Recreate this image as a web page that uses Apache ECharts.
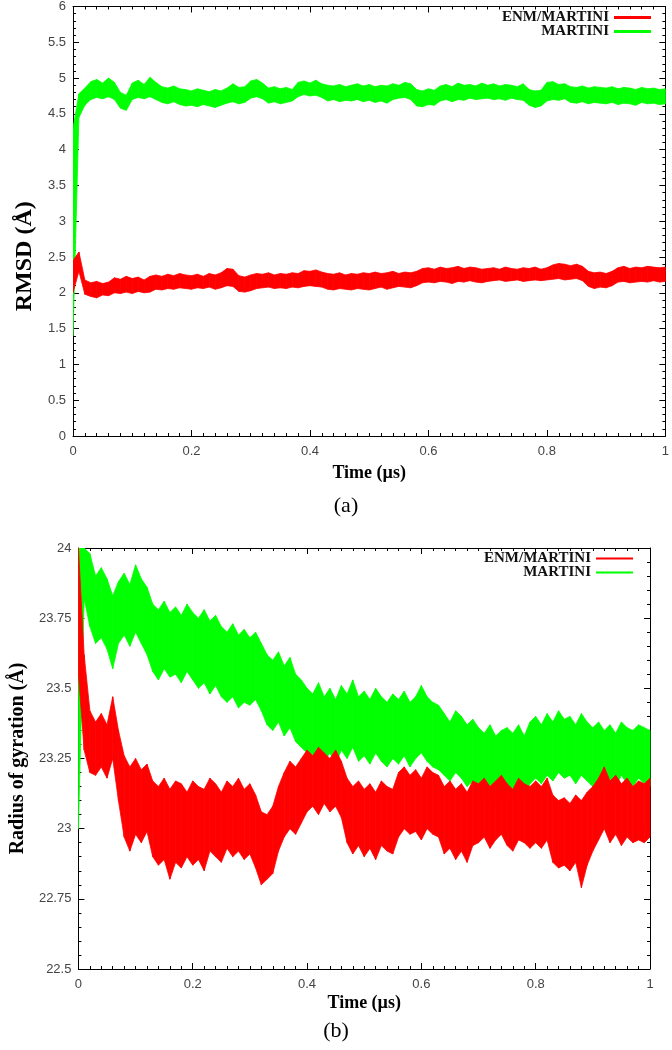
<!DOCTYPE html>
<html>
<head>
<meta charset="utf-8">
<script src="https://cdn.jsdelivr.net/npm/echarts@6/dist/echarts.min.js"></script>
<style>html,body{margin:0;padding:0;background:#fff}#c{width:672px;height:1050px}</style>
</head>
<body>
<div id="c"></div>
<script>
// Time grid step (µs) of the envelope samples below (t = 0, 0.01, ..., 1.0)
const STEP = 0.01;
const seriesNames = ['ENM/MARTINI', 'MARTINI'];
const xTicks = [0, 0.2, 0.4, 0.6, 0.8, 1];

// (a) RMSD (Å) – upper / lower envelope of the fluctuating traces
const rmsdMartiniHi = [
4.30,4.78,4.86,4.95,4.98,4.93,5.00,4.94,4.80,4.76,
4.93,4.97,4.91,5.01,4.94,4.88,4.86,4.89,4.85,4.84,
4.82,4.85,4.83,4.81,4.84,4.82,4.86,4.92,4.87,4.88,
4.96,4.98,4.93,4.86,4.88,4.85,4.87,4.84,4.94,4.96,
4.93,4.97,4.92,4.90,4.89,4.91,4.88,4.90,4.92,4.89,
4.91,4.88,4.90,4.89,4.92,4.90,4.94,4.92,4.84,4.82,
4.85,4.83,4.89,4.91,4.88,4.93,4.90,4.91,4.89,4.93,
4.90,4.92,4.89,4.91,4.90,4.88,4.92,4.84,4.82,4.83,
4.94,4.95,4.91,4.92,4.88,4.87,4.89,4.86,4.88,4.87,
4.86,4.88,4.85,4.87,4.86,4.84,4.87,4.85,4.86,4.84,
4.85];
const rmsdMartiniLo = [
1.40,4.45,4.62,4.70,4.73,4.71,4.74,4.70,4.58,4.55,
4.70,4.73,4.71,4.74,4.70,4.66,4.64,4.67,4.63,4.61,
4.62,4.60,4.63,4.61,4.59,4.62,4.65,4.67,4.64,4.66,
4.72,4.74,4.71,4.65,4.67,4.64,4.66,4.68,4.74,4.77,
4.75,4.76,4.73,4.68,4.70,4.67,4.69,4.68,4.70,4.67,
4.69,4.66,4.68,4.65,4.70,4.72,4.73,4.70,4.61,4.60,
4.63,4.62,4.68,4.70,4.67,4.70,4.69,4.72,4.70,4.71,
4.72,4.70,4.71,4.69,4.72,4.70,4.69,4.62,4.59,4.61,
4.68,4.70,4.69,4.71,4.66,4.65,4.67,4.64,4.66,4.65,
4.64,4.66,4.63,4.65,4.64,4.62,4.66,4.64,4.65,4.63,
4.64];
const rmsdEnmHi = [
2.45,2.57,2.18,2.14,2.16,2.13,2.15,2.21,2.19,2.23,
2.20,2.22,2.18,2.23,2.25,2.23,2.26,2.24,2.27,2.25,
2.24,2.26,2.23,2.27,2.25,2.28,2.34,2.33,2.24,2.22,
2.25,2.27,2.26,2.28,2.25,2.27,2.26,2.28,2.27,2.31,
2.30,2.32,2.29,2.27,2.26,2.28,2.25,2.27,2.26,2.28,
2.27,2.29,2.27,2.28,2.30,2.27,2.29,2.28,2.30,2.34,
2.35,2.33,2.36,2.34,2.35,2.37,2.34,2.36,2.35,2.33,
2.34,2.35,2.33,2.36,2.34,2.33,2.35,2.34,2.36,2.33,
2.35,2.39,2.41,2.40,2.38,2.40,2.37,2.30,2.28,2.29,
2.27,2.30,2.35,2.37,2.34,2.36,2.35,2.37,2.36,2.35,
2.36];
const rmsdEnmLo = [
2.00,2.30,1.98,1.95,1.93,1.97,1.96,2.00,1.99,2.01,
1.99,2.02,2.00,2.01,2.05,2.04,2.06,2.05,2.07,2.06,
2.05,2.07,2.06,2.08,2.05,2.07,2.10,2.09,2.02,2.01,
2.03,2.06,2.07,2.08,2.06,2.07,2.06,2.08,2.07,2.09,
2.10,2.09,2.08,2.05,2.04,2.06,2.05,2.04,2.06,2.05,
2.04,2.06,2.08,2.05,2.07,2.09,2.08,2.07,2.10,2.14,
2.15,2.14,2.16,2.15,2.13,2.16,2.15,2.17,2.15,2.14,
2.16,2.17,2.18,2.16,2.17,2.18,2.16,2.17,2.18,2.17,
2.18,2.19,2.20,2.18,2.19,2.20,2.17,2.09,2.06,2.08,
2.07,2.10,2.15,2.16,2.14,2.15,2.16,2.15,2.17,2.15,
2.16];

// (b) Radius of gyration (Å) – upper / lower envelope
const rgMartiniHi = [
24.00,24.00,23.98,23.90,23.93,23.89,23.83,23.88,23.91,23.87,
23.94,23.89,23.86,23.80,23.78,23.81,23.77,23.79,23.76,23.80,
23.77,23.75,23.78,23.74,23.76,23.72,23.70,23.73,23.69,23.71,
23.68,23.70,23.66,23.62,23.60,23.63,23.58,23.61,23.55,23.53,
23.50,23.48,23.52,23.47,23.50,23.46,23.51,23.48,23.53,23.47,
23.49,23.46,23.50,23.47,23.45,23.48,23.46,23.49,23.45,23.47,
23.51,23.47,23.45,23.44,23.41,23.38,23.42,23.40,23.37,23.39,
23.36,23.34,23.37,23.33,23.35,23.36,23.34,23.37,23.33,23.38,
23.40,23.37,23.41,23.38,23.42,23.39,23.40,23.37,23.41,23.38,
23.36,23.38,23.35,23.37,23.34,23.38,23.36,23.35,23.37,23.36,
23.35];
const rgMartiniLo = [
23.00,23.82,23.72,23.66,23.68,23.64,23.57,23.66,23.69,23.65,
23.70,23.66,23.62,23.56,23.53,23.57,23.54,23.55,23.52,23.56,
23.53,23.50,23.52,23.48,23.51,23.47,23.45,23.47,23.43,23.45,
23.44,23.46,23.42,23.37,23.35,23.38,23.33,23.36,23.31,23.29,
23.27,23.25,23.28,23.24,23.27,23.23,23.28,23.25,23.29,23.24,
23.26,23.23,23.27,23.24,23.22,23.25,23.23,23.26,23.22,23.25,
23.27,23.24,23.22,23.21,23.19,23.17,23.20,23.18,23.15,23.17,
23.12,23.10,23.13,23.09,23.11,23.13,23.10,23.14,23.11,23.16,
23.18,23.16,23.19,23.17,23.20,23.18,23.19,23.16,23.19,23.17,
23.15,23.18,23.14,23.17,23.15,23.19,23.16,23.15,23.18,23.16,
23.15];
const rgEnmHi = [
24.00,23.62,23.42,23.38,23.41,23.37,23.47,23.35,23.26,23.22,
23.25,23.21,23.23,23.17,23.15,23.18,23.14,23.17,23.16,23.13,
23.17,23.15,23.14,23.18,23.16,23.13,23.17,23.15,23.18,23.14,
23.16,23.12,23.06,23.05,23.08,23.15,23.20,23.24,23.22,23.25,
23.28,23.26,23.29,23.27,23.25,23.28,23.24,23.18,23.15,23.17,
23.14,23.16,23.13,23.17,23.15,23.14,23.20,23.22,23.19,23.21,
23.18,23.22,23.20,23.19,23.15,23.17,23.14,23.16,23.13,23.17,
23.16,23.18,23.15,23.17,23.19,23.16,23.14,23.18,23.16,23.15,
23.17,23.15,23.18,23.12,23.10,23.11,23.09,23.12,23.10,23.13,
23.15,23.18,23.22,23.17,23.19,23.16,23.18,23.15,23.17,23.16,
23.18];
const rgEnmLo = [
23.55,23.28,23.20,23.19,23.22,23.18,23.25,23.10,22.97,22.92,
22.98,22.95,22.99,22.90,22.87,22.89,22.82,22.88,22.86,22.90,
22.87,22.89,22.85,22.92,22.90,22.88,22.93,22.90,22.92,22.89,
22.91,22.86,22.80,22.82,22.84,22.92,22.97,23.00,22.98,23.02,
23.06,23.08,23.05,23.09,23.06,23.08,23.04,22.95,22.91,22.94,
22.90,22.93,22.89,22.94,22.92,22.91,22.97,23.00,22.98,22.99,
22.96,23.00,22.98,22.97,22.91,22.93,22.89,22.92,22.88,22.94,
22.95,22.97,22.93,22.96,22.98,22.94,22.92,22.96,22.95,22.93,
22.95,22.93,22.96,22.88,22.86,22.87,22.85,22.88,22.79,22.87,
22.92,22.96,23.00,22.95,22.98,22.94,22.97,22.95,22.96,22.95,
22.97];

const RED = '#ff0000', GREEN = '#00ff00';
const SERIF = '"Liberation Serif", "Times New Roman", serif';
const SANS = '"Liberation Sans", Arial, sans-serif';

function bandSeries(name, color, hi, lo, axisIdx) {
  const data = hi.map((h, i) => [Math.round(i * STEP * 1000) / 1000, lo[i], h]);
  return {
    type: 'custom', name: name, xAxisIndex: axisIdx, yAxisIndex: axisIdx,
    itemStyle: { color: color }, data: data, clip: true, silent: true,
    animation: false, encode: { x: 0, y: [1, 2] },
    renderItem: function (params, api) {
      const i = params.dataIndex;
      if (i >= data.length - 1) return null;
      const a = data[i], b = data[i + 1];
      const pts = [api.coord([a[0], a[2]]), api.coord([b[0], b[2]]),
                   api.coord([b[0], b[1]]), api.coord([a[0], a[1]])];
      return { type: 'polygon', shape: { points: pts },
               style: { fill: color, stroke: color, lineWidth: 0.8 } };
    }
  };
}

function xAx(grid, pos, showLabel, name, gap) {
  return {
    type: 'value', gridIndex: grid, position: pos, min: 0, max: 1, interval: 0.2,
    axisLine: { show: true, onZero: false, lineStyle: { color: '#000', width: 1 } },
    axisTick: { show: true, inside: true, length: 6, lineStyle: { color: '#000' } },
    minorTick: { show: true, splitNumber: 10, length: 3, lineStyle: { color: '#000' } },
    splitLine: { show: false }, minorSplitLine: { show: false },
    axisLabel: { show: showLabel, color: '#444', fontFamily: SANS, fontSize: 13, margin: 9,
                 formatter: v => String(v) },
    name: name || '', nameLocation: 'middle', nameGap: gap || 0,
    nameTextStyle: { fontFamily: SERIF, fontWeight: 'bold', fontSize: 18, color: '#000' }
  };
}
function yAx(grid, pos, showLabel, min, max, interval, name, gap, fs, pad) {
  return {
    type: 'value', gridIndex: grid, position: pos, min: min, max: max, interval: interval,
    axisLine: { show: true, onZero: false, lineStyle: { color: '#000', width: 1 } },
    axisTick: { show: true, inside: true, length: 6, lineStyle: { color: '#000' } },
    minorTick: { show: true, splitNumber: 5, length: 3, lineStyle: { color: '#000' } },
    splitLine: { show: false }, minorSplitLine: { show: false },
    axisLabel: { show: showLabel, color: '#444', fontFamily: SANS, fontSize: 13, margin: 7 },
    name: name || '', nameLocation: 'middle', nameGap: gap || 0,
    nameTextStyle: { fontFamily: SERIF, fontWeight: 'bold', fontSize: fs || 18, color: '#000',
                     padding: pad || 0 }
  };
}
function leg(name, right, top, h) {
  return {
    data: [name], right: right, top: top, orient: 'vertical', align: 'right', padding: 0,
    icon: 'rect', itemWidth: 37, itemHeight: h, selectedMode: false,
    textStyle: { fontFamily: SERIF, fontWeight: 'bold', fontSize: 15, color: '#111' }
  };
}

const chart = echarts.init(document.getElementById('c'), null, { renderer: 'canvas' });
chart.setOption({
  backgroundColor: '#fff',
  animation: false,
  grid: [
    { left: 73, right: 5, top: 6, height: 430 },
    { left: 72, right: 22, top: 548, height: 421 }
  ],
  xAxis: [
    xAx(0, 'bottom', true, 'Time (µs)', 28),
    xAx(0, 'top', false),
    xAx(1, 'bottom', true, 'Time (µs)', 25),
    xAx(1, 'top', false)
  ],
  yAxis: [
    yAx(0, 'left', true, 0, 6, 0.5, 'RMSD (Å)', 34, 24, [0, 70, 0, 0]),
    yAx(0, 'right', false, 0, 6, 0.5),
    yAx(1, 'left', true, 22.5, 24, 0.25, 'Radius of gyration (Å)', 46, 20),
    yAx(1, 'right', false, 22.5, 24, 0.25)
  ],
  legend: [
    leg(seriesNames[0], 21, 10, 3),
    leg(seriesNames[1], 21, 24, 3),
    leg(seriesNames[0], 39, 551, 2),
    leg(seriesNames[1], 39, 565, 2)
  ],
  graphic: [
    { type: 'text', x: 346, y: 506, style: { text: '(a)', font: '22px ' + SERIF, fill: '#000',
      textAlign: 'center', textVerticalAlign: 'middle' } },
    { type: 'text', x: 336, y: 1031, style: { text: '(b)', font: '22px ' + SERIF, fill: '#000',
      textAlign: 'center', textVerticalAlign: 'middle' } }
  ],
  series: [
    bandSeries(seriesNames[1], GREEN, rmsdMartiniHi, rmsdMartiniLo, 0),
    bandSeries(seriesNames[0], RED, rmsdEnmHi, rmsdEnmLo, 0),
    bandSeries(seriesNames[1], GREEN, rgMartiniHi, rgMartiniLo, 2),
    bandSeries(seriesNames[0], RED, rgEnmHi, rgEnmLo, 2)
  ]
});
</script>
</body>
</html>
